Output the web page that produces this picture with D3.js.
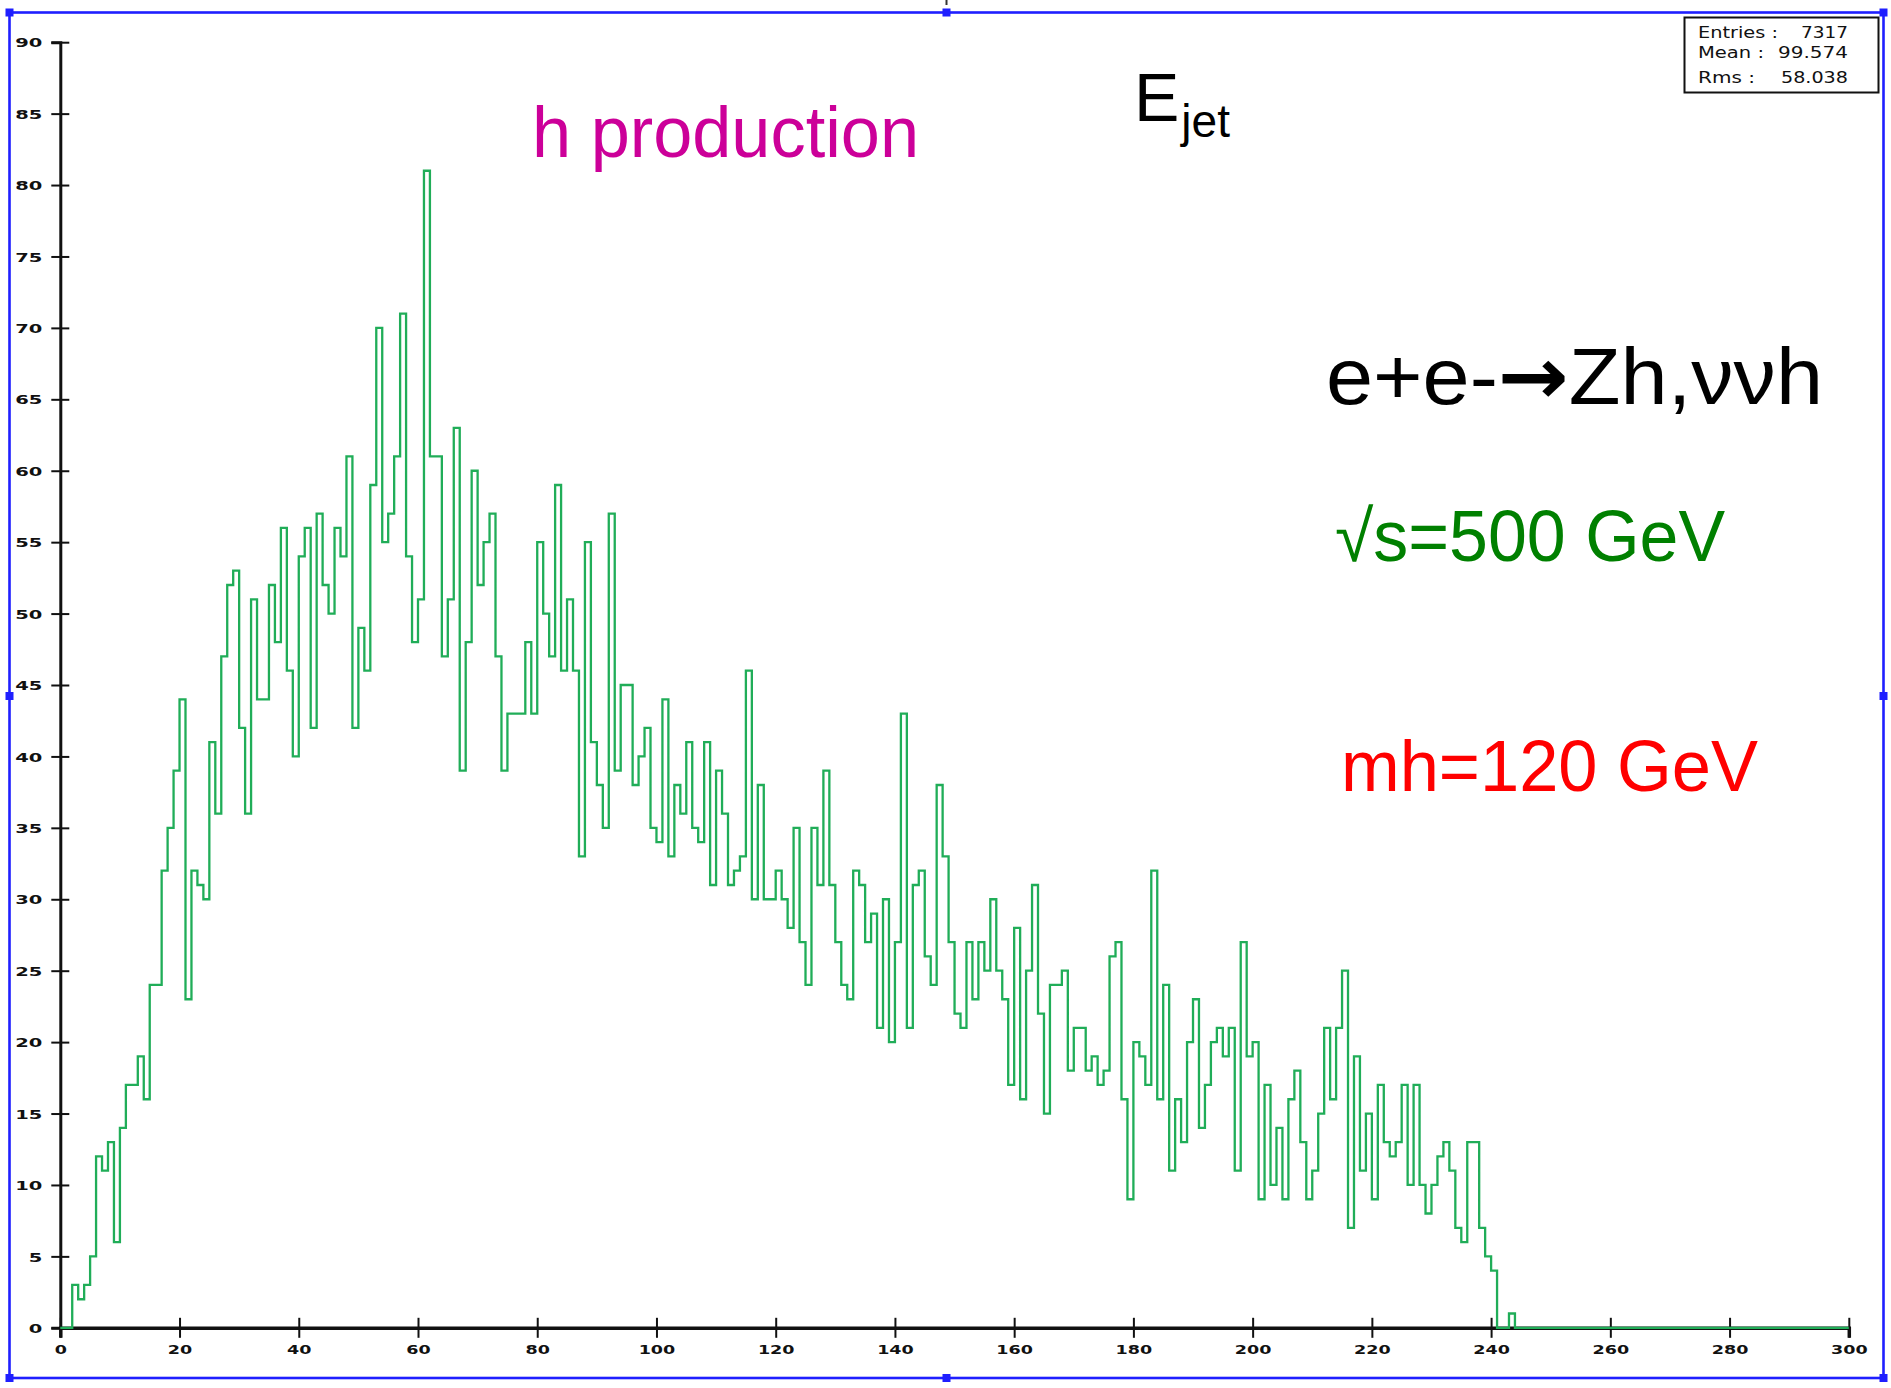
<!DOCTYPE html>
<html><head><meta charset="utf-8">
<script src="https://cdn.jsdelivr.net/npm/d3@7"></script>
<style>
html,body{margin:0;padding:0;background:#fff;}
svg{display:block;}
</style>
</head><body>
<svg id="chart" width="1891" height="1388"></svg>
<script>
// ---- data (1 GeV bins from 0 to 300) ----
const counts = [
  0,0,3,2,3,5,12,11,13,6,
  14,17,17,19,16,24,24,32,35,39,
  44,23,32,31,30,41,36,47,52,53,
  42,36,51,44,44,52,48,56,46,40,
  54,56,42,57,52,50,56,54,61,42,
  49,46,59,70,55,57,61,71,54,48,
  51,81,61,61,47,51,63,39,48,60,
  52,55,57,47,39,43,43,43,48,43,
  55,50,47,59,46,51,46,33,55,41,
  38,35,57,39,45,45,38,40,42,35,
  34,44,33,38,36,41,35,34,41,31,
  39,36,31,32,33,46,30,38,30,30,
  32,30,28,35,27,24,35,31,39,31,
  27,24,23,32,31,27,29,21,30,20,
  27,43,21,31,32,26,24,38,33,27,
  22,21,27,23,27,25,30,25,23,17,
  28,16,25,31,22,15,24,24,25,18,
  21,21,18,19,17,18,26,27,16,9,
  20,19,17,32,16,24,11,16,13,20,
  23,14,17,20,21,19,21,11,27,19,
  20,9,17,10,14,9,16,18,13,9,
  11,15,21,16,21,25,7,19,11,15,
  9,17,13,12,13,17,10,17,10,8,
  10,12,13,11,7,6,13,13,7,5,
  4,0,0,1,0,0,0,0,0,0,
  0,0,0,0,0,0,0,0,0,0,
  0,0,0,0,0,0,0,0,0,0,
  0,0,0,0,0,0,0,0,0,0,
  0,0,0,0,0,0,0,0,0,0,
  0,0,0,0,0,0,0,0,0,0
];
const binEdges = [0, 300];
const xTicks = [0,20,40,60,80,100,120,140,160,180,200,220,240,260,280,300];
const yTicks = [0,5,10,15,20,25,30,35,40,45,50,55,60,65,70,75,80,85,90];
const yRange = [0, 90];
const statLabels = ["Entries :", "Mean :", "Rms :"];
const statValues = ["7317", "99.574", "58.038"];
const titleText = "h production";
const quantityMain = "E";
const quantitySub = "jet";
const processParts = ["e+e-", "\u2192", "Zh,\u03BD\u03BDh"];
const energyText = "\u221As=500 GeV";
const massText = "mh=120 GeV";

// ---- drawing ----
const svg = d3.select("#chart");
const W = 1891, H = 1388;

const x = d3.scaleLinear().domain(binEdges).range([60.3, 1848.8]);
const y = d3.scaleLinear().domain(yRange).range([1327.8, 42.2]);

// outer blue frame with handles
const frame = {x0: 9.5, y0: 12.5, x1: 1883.5, y1: 1378};
svg.append("rect").attr("x", frame.x0).attr("y", frame.y0)
  .attr("width", frame.x1 - frame.x0).attr("height", frame.y1 - frame.y0)
  .attr("fill", "none").attr("stroke", "#1f1fff").attr("stroke-width", 2.6);
const mx = (frame.x0 + frame.x1) / 2, my = 696;
[[frame.x0, frame.y0],[mx, frame.y0],[frame.x1, frame.y0],[frame.x0, my],[frame.x1, my],
 [frame.x0, frame.y1],[mx, frame.y1],[frame.x1, frame.y1]].forEach(p => {
  svg.append("rect").attr("x", p[0] - 4).attr("y", p[1] - 4).attr("width", 8).attr("height", 8)
    .attr("fill", "#1f1fff");
});
svg.append("line").attr("x1", mx).attr("x2", mx).attr("y1", 0).attr("y2", 5)
  .attr("stroke", "#333").attr("stroke-width", 2);

// axes
const axisColor = "#111";
const gy = svg.append("g").attr("transform", `translate(${x(0)},0)`)
  .call(d3.axisLeft(y).tickValues(yTicks).tickSizeOuter(0).tickSize(9).tickFormat(d3.format("d")));
gy.select(".domain").attr("stroke", axisColor).attr("stroke-width", 3);
gy.selectAll(".tick line").attr("x1", -9).attr("x2", 9).attr("stroke", axisColor).attr("stroke-width", 2);
gy.selectAll(".tick text").attr("x", 0).attr("dy", "0.36em")
  .attr("transform", "translate(-18,0) scale(1.5,1)")
  .attr("text-anchor", "end")
  .style("font-family", "'DejaVu Sans', sans-serif").style("font-size", "13px")
  .style("font-weight", "bold").attr("fill", "#111");

const gx = svg.append("g").attr("transform", `translate(0,${y(0)})`)
  .call(d3.axisBottom(x).tickValues(xTicks).tickSizeOuter(0).tickSize(10).tickFormat(d3.format("d")));
gx.select(".domain").attr("stroke", axisColor).attr("stroke-width", 3.5);
gx.selectAll(".tick line").attr("y1", -10).attr("y2", 10).attr("stroke", axisColor).attr("stroke-width", 2);
gx.selectAll(".tick text").attr("y", 0).attr("dy", "0.36em")
  .attr("transform", "translate(0,22) scale(1.35,1)")
  .attr("text-anchor", "middle")
  .style("font-family", "'DejaVu Sans', sans-serif").style("font-size", "13px")
  .style("font-weight", "bold").attr("fill", "#111");

// histogram outline
const pts = counts.map((c, i) => [i, c]);
pts.push([binEdges[1], counts[counts.length - 1]]);
const line = d3.line().x(d => x(d[0])).y(d => y(d[1])).curve(d3.curveStepAfter);
svg.append("path").attr("d", line(pts)).attr("fill", "none")
  .attr("stroke", "#20ad58").attr("stroke-width", 2.3).attr("stroke-linejoin", "miter");

// stats box
const sb = svg.append("g");
sb.append("rect").attr("x", 1684.5).attr("y", 17.5).attr("width", 194).attr("height", 75)
  .attr("fill", "#fff").attr("stroke", "#111").attr("stroke-width", 2);
const rowsY = [38, 58, 83];
statLabels.forEach((t, i) => {
  sb.append("text").attr("x", 1698).attr("y", rowsY[i]).text(t)
    .style("font-family", "'DejaVu Sans', sans-serif").style("font-size", "15px").attr("fill", "#111")
    .attr("textLength", [80, 66, 57][i]).attr("lengthAdjust", "spacingAndGlyphs");
  sb.append("text").attr("x", 1848).attr("y", rowsY[i]).text(statValues[i])
    .attr("text-anchor", "end")
    .style("font-family", "'DejaVu Sans', sans-serif").style("font-size", "15px").attr("fill", "#111")
    .attr("textLength", [47, 70, 67][i]).attr("lengthAdjust", "spacingAndGlyphs");
});

// titles
const sans = "'Liberation Sans', Arial, sans-serif";
svg.append("text").attr("x", 532).attr("y", 157).text(titleText)
  .style("font-family", sans).style("font-size", "72px").attr("fill", "#cc0099")
  .attr("textLength", 387).attr("lengthAdjust", "spacingAndGlyphs");

const eq = svg.append("text").attr("x", 1134).attr("y", 121)
  .style("font-family", sans).attr("fill", "#000");
eq.append("tspan").text(quantityMain).style("font-size", "68px");
eq.append("tspan").text(quantitySub).attr("dy", 16).attr("dx", 2).style("font-size", "46px");

const proc = svg.append("text").attr("x", 1326).attr("y", 404)
  .style("font-family", sans).style("font-size", "80px").attr("fill", "#000")
  .attr("textLength", 497).attr("lengthAdjust", "spacingAndGlyphs");
proc.append("tspan").text(processParts[0]);
proc.append("tspan").text(processParts[1]).style("font-family", "'DejaVu Sans', sans-serif").style("font-weight", "bold");
proc.append("tspan").text(processParts[2]);

svg.append("text").attr("x", 1335).attr("y", 561).text(energyText)
  .style("font-family", sans).style("font-size", "72px").attr("fill", "#008000")
  .attr("textLength", 390).attr("lengthAdjust", "spacingAndGlyphs");

svg.append("text").attr("x", 1341).attr("y", 791).text(massText)
  .style("font-family", sans).style("font-size", "72px").attr("fill", "#ff0000")
  .attr("textLength", 417).attr("lengthAdjust", "spacingAndGlyphs");
</script>
</body></html>
